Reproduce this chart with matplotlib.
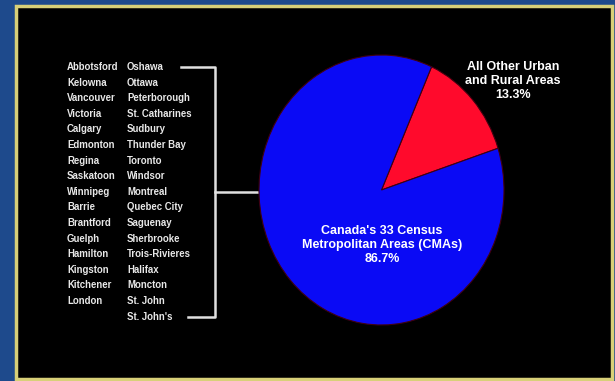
import matplotlib.pyplot as plt
from matplotlib.patches import Rectangle

plt.rcParams['font.family'] = ['Liberation Sans', 'DejaVu Sans']

shares = [13.3, 86.7]
share_colors = ['#ff0a2c', '#0a0af5']
share_labels = ['All Other Urban\nand Rural Areas\n13.3%',
                "Canada's 33 Census\nMetropolitan Areas (CMAs)\n86.7%"]

cities_left = ['Abbotsford', 'Kelowna', 'Vancouver', 'Victoria', 'Calgary',
               'Edmonton', 'Regina', 'Saskatoon', 'Winnipeg', 'Barrie',
               'Brantford', 'Guelph', 'Hamilton', 'Kingston', 'Kitchener',
               'London']
cities_right = ['Oshawa', 'Ottawa', 'Peterborough', 'St. Catharines', 'Sudbury',
                'Thunder Bay', 'Toronto', 'Windsor', 'Montreal', 'Quebec City',
                'Saguenay', 'Sherbrooke', 'Trois-Rivieres', 'Halifax', 'Moncton',
                'St. John', "St. John's"]

W, H = 615, 381
fig = plt.figure(figsize=(W / 100, H / 100), dpi=100)
fig.patch.set_facecolor('#1e4a8c')

# background panel in pixel coordinates
bg = fig.add_axes([0, 0, 1, 1])
bg.set_xlim(0, W)
bg.set_ylim(H, 0)
bg.axis('off')
bg.add_patch(Rectangle((15.5, 5.5), 596, 373, facecolor='black',
                       edgecolor='#d8d078', linewidth=2.5))

# city list
y0, dy = 67, 15.6
for i, c in enumerate(cities_left):
    bg.text(67, y0 + i * dy, c, color='#e8e8e8', fontsize=6.9,
            fontweight='bold', va='center', ha='left')
for i, c in enumerate(cities_right):
    bg.text(127, y0 + i * dy, c, color='#e8e8e8', fontsize=6.9,
            fontweight='bold', va='center', ha='left')

# bracket
y_last = y0 + (len(cities_right) - 1) * dy
lc = '#e0e0e0'
bg.plot([181, 215, 215, 188], [y0, y0, y_last, y_last], color=lc, lw=1.8)
bg.plot([215, 258], [192, 192], color=lc, lw=1.8)

# pie (slightly taller than wide, as in the slide)
ax = fig.add_axes([259 / W, (H - 325) / H, 245 / W, 270 / H])
ax.pie(shares, colors=share_colors, startangle=18, counterclock=True,
       wedgeprops=dict(edgecolor='#400010', linewidth=0.8))
ax.set_aspect('auto')
ax.set_xlim(-1, 1)
ax.set_ylim(-1, 1)

fig.text(513 / W, 1 - 81 / H, share_labels[0], color='white', fontsize=9,
         fontweight='bold', ha='center', va='center', linespacing=1.2)
fig.text(382 / W, 1 - 245 / H, share_labels[1], color='white', fontsize=9,
         fontweight='bold', ha='center', va='center', linespacing=1.2)

fig.savefig('out.png', dpi=100, facecolor=fig.get_facecolor())
